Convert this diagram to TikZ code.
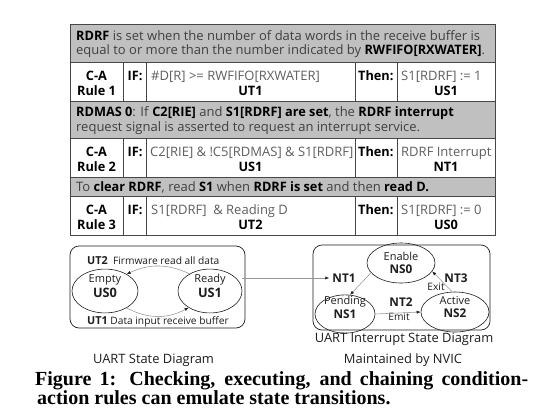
\documentclass[tikz,border=0pt]{standalone}
\usepackage{fontspec}
\setmainfont{Open Sans}[BoldFeatures={FakeStretch=0.98}]
\newfontfamily\capfont{Liberation Serif}
\usetikzlibrary{arrows.meta,shapes.geometric}
\definecolor{rowgray}{RGB}{192,192,192}
\definecolor{txtdark}{RGB}{64,64,64}
\definecolor{txtlight}{RGB}{95,95,95}
\definecolor{gridline}{RGB}{70,70,70}
\definecolor{arcgray}{RGB}{150,150,150}
\definecolor{inkdark}{RGB}{30,30,30}
\newcommand\stlbl[3]{\raisebox{#1}[\height][\depth]{\begin{tabular}{@{}c@{}}#2\\#3\end{tabular}}}
\begin{document}
\begin{tikzpicture}[x=1pt,y=-1pt,
  gtext/.style={anchor=base west,inner sep=0pt,text=txtdark,font=\fontsize{13}{15}\selectfont},
  ctext/.style={anchor=base west,inner sep=0pt,text=txtlight,font=\fontsize{13}{15}\selectfont},
  btext/.style={anchor=base,inner sep=0pt,text=black,font=\fontsize{13}{15}\selectfont\bfseries},
  bwtext/.style={anchor=base west,inner sep=0pt,text=black,font=\fontsize{13}{15}\selectfont\bfseries},
  grid/.style={draw=gridline,line width=0.8pt},
  state/.style={draw=inkdark,line width=0.6pt,ellipse,inner sep=0pt,text=inkdark},
  sbox/.style={draw=inkdark,line width=0.7pt,rounded corners=9pt},
  conn/.style={draw=arcgray,line width=0.55pt,-{Latex[length=4pt,width=3.2pt,color=inkdark]}},
  lbl/.style={inner sep=0pt,text=inkdark,font=\fontsize{10.2}{12}\selectfont},
  blbl/.style={inner sep=3pt,text=inkdark,font=\fontsize{12}{14}\selectfont\bfseries},
  dcap/.style={anchor=base,inner sep=0pt,text=inkdark,font=\fontsize{12.9}{15}\selectfont}
]
\fill[white] (0,0) rectangle (553,412);
\useasboundingbox (0,0) rectangle (553,412);

% ---------- table ----------
\fill[rowgray] (70,24) rectangle (495,62);
\fill[rowgray] (70,101) rectangle (495,138);
\fill[rowgray] (70,177) rectangle (495,196);
\draw[grid] (70,24) rectangle (495,235);
\foreach \yy in {62,101,138,177,196} \draw[grid] (70,\yy) -- (495,\yy);
\foreach \xx in {123,146,355,397} {
  \draw[grid] (\xx,62) -- (\xx,101);
  \draw[grid] (\xx,138) -- (\xx,177);
  \draw[grid] (\xx,196) -- (\xx,235);
}

% row 1
\node[gtext] (r1a) at (76,40.5) {\textbf{\color{black}RDRF} is set when the number of data words in the receive buffer is};
\node[gtext] (r1b) at (76,55) {equal to or more than the number indicated by \textbf{\color{black}RWFIFO[RXWATER]}.};
% row 2
\node[btext] (r2a) at (96.5,80.5) {C-A};
\node[btext] (r2b) at (96.5,95.5) {Rule 1};
\node[bwtext] (r2if) at (127.5,80.5) {IF:};
\node[ctext] (r2c) at (151,80.5) {\#D[R] >= RWFIFO[RXWATER]};
\node[btext] (r2d) at (250.5,95.5) {UT1};
\node[bwtext] (r2then) at (358,80.5) {Then:};
\node[ctext] (r2e) at (401,80.5) {S1[RDRF] := 1};
\node[btext] (r2f) at (446,95.5) {US1};
% row 3
\node[gtext] (r3a) at (76,116.5) {\textbf{\color{black}RDMAS 0}: If \textbf{\color{black}C2[RIE]} and \textbf{\color{black}S1[RDRF] are set}, the \textbf{\color{black}RDRF interrupt}};
\node[gtext] (r3b) at (76,131.5) {request signal is asserted to request an interrupt service.};
% row 4
\node[btext] (r4a) at (96.5,156.5) {C-A};
\node[btext] (r4b) at (96.5,171.5) {Rule 2};
\node[bwtext] (r4if) at (127.5,156.5) {IF:};
\node[ctext] (r4c) at (150,156.5) {C2[RIE] \& !C5[RDMAS] \& S1[RDRF]};
\node[btext] (r4d) at (250.5,171.5) {US1};
\node[bwtext] (r4then) at (358,156.5) {Then:};
\node[ctext] (r4e) at (401,156.5) {RDRF Interrupt};
\node[btext] (r4f) at (446,171.5) {NT1};
% row 5
\node[gtext] (r5a) at (76,191.5) {To \textbf{\color{black}clear RDRF}, read \textbf{\color{black}S1} when \textbf{\color{black}RDRF is set} and then \textbf{\color{black}read D.}};
% row 6
\node[btext] (r6a) at (96.5,214.5) {C-A};
\node[btext] (r6b) at (96.5,229.5) {Rule 3};
\node[bwtext] (r6if) at (127.5,214.5) {IF:};
\node[ctext] (r6c) at (151,214.5) {S1[RDRF]\ \ \& Reading D};
\node[btext] (r6d) at (250.5,229.5) {UT2};
\node[bwtext] (r6then) at (358,214.5) {Then:};
\node[ctext] (r6e) at (401,214.5) {S1[RDRF] := 0};
\node[btext] (r6f) at (446,229.5) {US0};

% ---------- UART state diagram ----------
\draw[sbox] (70,246) rectangle (245,328);
\node[state,minimum width=66pt,minimum height=42pt,font=\fontsize{11}{15.5}\selectfont] (empty) at (105,291)
  {\stlbl{4pt}{Empty}{\fontsize{13}{15}\selectfont\bfseries US0}};
\node[state,minimum width=64pt,minimum height=40pt,font=\fontsize{11}{15.5}\selectfont] (ready) at (210,291)
  {\stlbl{4pt}{Ready}{\fontsize{13}{15}\selectfont\bfseries US1}};
\node[lbl,anchor=base west] (ut2) at (87,264) {{\fontsize{11}{13}\selectfont\bfseries UT2}\ \ Firmware read all data};
\node[lbl,anchor=base west] (ut1) at (87,324) {{\fontsize{11}{13}\selectfont\bfseries UT1}\ Data input receive buffer};
\draw[conn] (ready.140) to[out=155,in=25] (empty.38);
\draw[conn] (empty.-38) to[out=-28,in=208] (ready.218);

% ---------- UART interrupt state diagram ----------
\draw[sbox] (313,245) rectangle (490,330);
\node[state,minimum width=68pt,minimum height=40pt,font=\fontsize{11}{13.5}\selectfont] (enable) at (401,263)
  {\stlbl{-1.5pt}{Enable}{\fontsize{12}{13.5}\selectfont\bfseries NS0}};
\node[state,minimum width=60pt,minimum height=38pt,font=\fontsize{11}{13.5}\selectfont] (pending) at (345,314)
  {\stlbl{5pt}{Pending}{\fontsize{12}{13.5}\selectfont\bfseries NS1}};
\node[state,minimum width=68pt,minimum height=40pt,font=\fontsize{11}{13.5}\selectfont] (active) at (455,312)
  {\stlbl{3.5pt}{Active}{\fontsize{12}{13.5}\selectfont\bfseries NS2}};
\node[blbl] (nt1) at (344,278) {NT1};
\node[blbl] (nt2) at (401,302) {NT2};
\node[lbl] (emit) at (399,317) {Emit};
\node[blbl] (nt3) at (456,278) {NT3};
\node[lbl] (exit) at (436,287) {Exit};
\draw[conn] (ready.east |- nt1.west) -- (nt1.west);
\draw[conn] (enable.198) -- (pending.75);
\draw[conn] (pending.east) -- (active.west);
\draw[conn] (active.98) -- (enable.-15);

% ---------- captions ----------
\node[dcap] (capl) at (153.5,363) {UART State Diagram};
\node[dcap] (capr1) at (404,342) {UART Interrupt State Diagram};
\node[dcap] (capr2) at (403,363) {Maintained by NVIC};
\node[anchor=base west,inner sep=0pt,text=black,font=\capfont\bfseries\fontsize{20}{22}\selectfont] (fig1) at (35,385)
  {\makebox[493pt][s]{Figure 1: Checking, executing, and chaining condition-}};
\node[anchor=base west,inner sep=0pt,text=black,font=\capfont\bfseries\fontsize{20}{22}\selectfont] (fig2) at (37,404)
  {action rules can emulate state transitions.};
\end{tikzpicture}
\end{document}
